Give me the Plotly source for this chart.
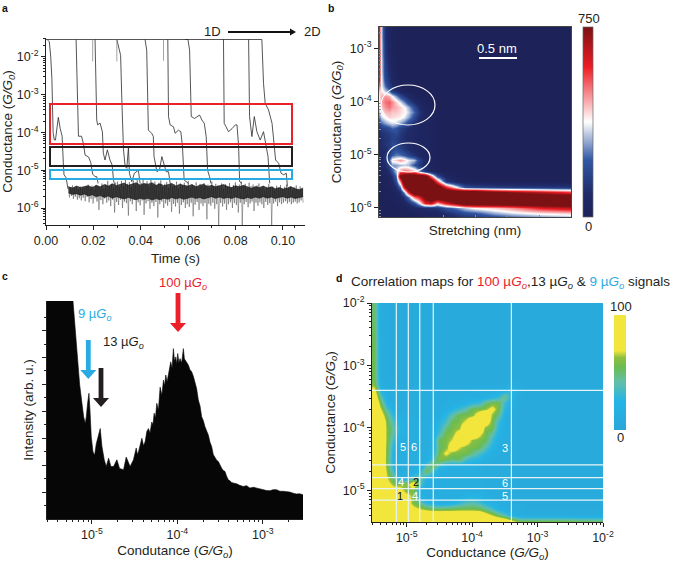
import numpy as np
import plotly.graph_objects as go

W, H = 685, 564

# ---------- panel a : log10 conductance traces ----------
TOP_LEVEL = -1.54
TOP_TIMES = [0.0, 0.0911]
TRACE_1_T = [0.0005,0.0014,0.0020,0.0025,0.0030,0.0035,0.0040,0.0045,0.0052,0.0060,0.0068,0.0073,0.0076,0.0085,0.0093]
TRACE_1_G = [-1.54,-1.6,-2.0,-2.6,-4.0,-4.2,-4.2,-3.95,-3.6,-3.9,-4.1,-4.8,-5.12,-5.2,-5.5]
TRACE_2_T = [0.0127,0.0130,0.0137,0.015,0.0158,0.0165,0.018,0.0189,0.0197,0.0207,0.0214,0.022]
TRACE_2_G = [-1.54,-2.6,-4.1,-4.1,-4.3,-4.6,-4.65,-4.8,-5.1,-5.17,-5.17,-5.35]
TRACE_3_T = [0.0207,0.0209,0.0214,0.0218,0.0228,0.0238,0.0242,0.0249,0.0259,0.027,0.0279,0.0285,0.029]
TRACE_3_G = [-1.54,-2.4,-3.67,-3.8,-3.75,-3.98,-4.55,-4.73,-4.46,-4.73,-4.86,-5.26,-5.4]
TRACE_4_T = [0.0299,0.031,0.0315,0.032,0.0327,0.0334,0.0341,0.0348,0.0352,0.0362,0.0373,0.039,0.0397]
TRACE_4_G = [-1.54,-1.82,-1.96,-3.14,-4.46,-4.9,-4.95,-4.38,-5.08,-5.3,-5.08,-5.0,-5.35]
TRACE_5_T = [0.0418,0.0425,0.0432,0.0446,0.0453,0.0456,0.0468,0.0479,0.0489,0.0499,0.0507,0.0517,0.0524]
TRACE_5_G = [-1.54,-1.82,-3.94,-4.02,-4.11,-4.64,-5.04,-4.99,-4.64,-4.86,-5.04,-5.04,-5.35]
TRACE_6_T = [0.0514,0.0517,0.0524,0.0538,0.0545,0.0559,0.0569,0.0576,0.0583,0.0601]
TRACE_6_G = [-1.54,-3.58,-3.8,-3.85,-4.02,-3.94,-3.98,-4.38,-5.26,-5.35]
TRACE_7_T = [0.0587,0.0599,0.0606,0.0613,0.0627,0.0637,0.0648,0.0658,0.0668,0.0676,0.0682,0.069,0.0696]
TRACE_7_G = [-1.54,-1.54,-1.82,-3.58,-3.63,-3.58,-3.54,-3.67,-3.76,-4.11,-5.0,-5.17,-5.35]
TRACE_8_T = [0.0749,0.0752,0.076,0.077,0.0785,0.0799,0.0806,0.0813,0.0817,0.0827]
TRACE_8_G = [-1.54,-3.76,-3.85,-3.98,-3.9,-3.8,-3.8,-4.38,-5.3,-5.35]
TRACE_9_T = [0.0855,0.0859,0.0869,0.0879,0.089,0.0904,0.0918,0.0925,0.0932,0.0937,0.0944]
TRACE_9_G = [-1.54,-3.58,-4.11,-3.58,-3.98,-4.2,-3.98,-4.24,-4.46,-4.64,-5.35]
TRACE_10_T = [0.0911,0.0918,0.0925,0.0939,0.0954,0.0963,0.0969,0.0982,0.0992,0.1003,0.1014,0.1019]
TRACE_10_G = [-1.54,-2.7,-3.23,-3.4,-3.76,-4.29,-4.73,-4.82,-5.08,-5.12,-5.08,-5.43]
SPIKE_A_T = [0.0197,0.0197]
SPIKE_A_G = [-1.54,-2.12]
SPIKE_B_T = [0.0496,0.0496]
SPIKE_B_G = [-1.54,-2.1]
SPIKE_C_T = [0.0299,0.0299]
SPIKE_C_G = [-1.54,-2.12]
TRACES = [(TRACE_1_T,TRACE_1_G),(TRACE_2_T,TRACE_2_G),(TRACE_3_T,TRACE_3_G),(TRACE_4_T,TRACE_4_G),
          (TRACE_5_T,TRACE_5_G),(TRACE_6_T,TRACE_6_G),(TRACE_7_T,TRACE_7_G),(TRACE_8_T,TRACE_8_G),
          (TRACE_9_T,TRACE_9_G),(TRACE_10_T,TRACE_10_G),(SPIKE_A_T,SPIKE_A_G),(SPIKE_B_T,SPIKE_B_G),(SPIKE_C_T,SPIKE_C_G)]

FLOOR_WIDE = [-5.42,-5.72,-5.45,-5.68,-5.4,-5.76,-5.47,-5.7,-5.44,-5.78,-5.5,-5.74,-5.43,-5.8,-5.48,-5.73,-5.46,-5.82,-5.42,-5.71,
 -5.38,-5.85,-5.47,-5.76,-5.41,-5.88,-5.5,-5.74,-5.39,-5.83,-5.44,-6.05,-5.46,-5.79,-5.35,-5.9,-5.48,-5.75,-5.37,-5.86,
 -5.28,-5.8,-5.42,-5.95,-5.36,-5.78,-5.45,-6.12,-5.33,-5.84,-5.3,-5.92,-5.44,-5.78,-5.28,-6.0,-5.41,-5.83,-5.25,-5.87,
 -5.36,-6.2,-5.31,-5.82,-5.43,-5.9,-5.27,-5.79,-5.38,-6.08,-5.26,-5.85,-5.4,-5.93,-5.34,-5.8,-5.22,-6.18,-5.37,-5.88,
 -5.29,-5.82,-5.42,-6.02,-5.24,-5.86,-5.38,-5.95,-5.3,-5.84,-5.41,-6.25,-5.33,-5.9,-5.27,-5.83,-5.44,-6.0,-5.36,-5.88,
 -5.31,-5.94,-5.46,-5.84,-5.34,-6.1,-5.42,-5.89,-5.38,-5.96,-5.3,-5.86,-5.47,-6.15,-5.35,-5.92,-5.41,-5.85,-5.33,-6.0,
 -5.43,-5.9,-5.28,-5.97,-5.45,-5.86,-5.37,-6.22,-5.4,-5.91,-5.32,-5.84,-5.46,-6.05,-5.36,-5.88,-5.42,-5.95,-5.34,-5.87,
 -5.41,-6.3,-5.38,-5.89,-5.47,-5.94,-5.3,-5.86,-5.44,-6.02,-5.36,-5.9,-5.4,-6.45,-5.45,-5.87,-5.35,-5.96,-5.48,-5.88,
 -5.37,-6.05,-5.43,-5.9,-5.34,-5.85,-5.46,-6.0,-5.39,-5.87,-5.32,-5.92,-5.44,-6.12,-5.38,-5.86,-5.3,-6.45,-5.41,-5.9,
 -5.36,-5.84,-5.47,-5.98,-5.33,-5.88,-5.42,-5.83,-5.38,-6.08,-5.45,-5.86,-5.4,-5.94,-5.35,-5.85,-5.48,-5.9,-5.42,-6.0,
 -5.5,-5.84,-5.44,-5.92,-5.37,-5.87,-5.46,-6.45,-5.43,-5.88,-5.52,-5.83,-5.41,-5.95,-5.48,-5.85,-5.39,-5.9,-5.5,-5.86,
 -5.44,-5.82,-5.38,-5.88,-5.47,-5.84,-5.42,-5.9,-5.51,-5.86,-5.45,-5.83,-5.4,-5.88,-5.49,-5.85,-5.43,-5.8,-5.5,-5.86]
BAND_UPPER = [-5.44,-5.47,-5.42,-5.46,-5.43,-5.41,-5.46,-5.4,-5.44,-5.38,-5.42,-5.36,-5.41,-5.38,-5.34,-5.4,-5.36,-5.33,-5.39,-5.35,
 -5.37,-5.33,-5.4,-5.36,-5.41,-5.38,-5.35,-5.42,-5.37,-5.4,-5.42,-5.38,-5.44,-5.4,-5.37,-5.43,-5.4,-5.44,-5.41,-5.38,
 -5.43,-5.46,-5.41,-5.44,-5.4,-5.45,-5.48,-5.43,-5.46,-5.42,-5.47,-5.44,-5.49,-5.46,-5.5,-5.47,-5.44,-5.49,-5.52,-5.47]
BAND_LOWER = [-5.6,-5.64,-5.62,-5.66,-5.63,-5.68,-5.65,-5.7,-5.67,-5.72,-5.68,-5.74,-5.7,-5.73,-5.76,-5.72,-5.75,-5.78,-5.74,-5.77,
 -5.74,-5.79,-5.75,-5.78,-5.74,-5.77,-5.72,-5.76,-5.73,-5.77,-5.74,-5.71,-5.75,-5.72,-5.76,-5.73,-5.7,-5.74,-5.71,-5.75,
 -5.72,-5.75,-5.71,-5.74,-5.76,-5.72,-5.75,-5.71,-5.74,-5.7,-5.74,-5.71,-5.75,-5.72,-5.7,-5.74,-5.71,-5.75,-5.72,-5.7]
FLOOR_START, FLOOR_END = 0.0095, 0.1085
RECT_RED = (50, 292, 104, 144)
RECT_BLACK = (50, 292, 147, 166)
RECT_BLUE = (50, 292, 170, 179)

# ---------- panel b : 2D histogram ----------
B_X = [0,.01,.03,.05,.07,.09,.11,.13,.15,.18,.21,.24,.27,.30,.35,.40,.45,.50,.60,.70,.85,1.0]
B_LOG_Y = [-6.2,-6.1,-6.0,-5.9,-5.8,-5.7,-5.6,-5.5,-5.4,-5.3,-5.2,-5.1,-5.0,-4.9,-4.8,-4.7,-4.6,-4.5,-4.4,-4.3,-4.2,-4.1,-4.0,-3.9,-3.8,-3.7,-3.6,-3.5,-3.4,-3.3,-3.2,-3.1,-3.0,-2.9,-2.8,-2.7,-2.6,-2.5]
B_Z = [
 [0,0,0,0,0,0,0,0,0,0,10,20,30,40,50,70,90,100,140,180,220,250],
 [0,0,0,0,0,0,0,0,10,20,30,40,50,60,100,150,200,220,300,350,400,430],
 [0,0,0,0,0,0,5,10,30,60,80,100,110,120,200,260,330,380,420,480,600,650],
 [0,0,0,0,5,10,20,50,100,200,350,600,650,450,620,750,900,900,900,900,900,900],
 [0,0,0,5,10,20,50,120,250,500,600,800,900,900,900,900,900,900,900,900,900,900],
 [0,0,5,10,25,50,100,300,600,900,900,900,900,900,900,900,900,900,800,720,650,560],
 [0,5,10,25,50,100,250,650,900,900,900,900,900,900,600,380,200,170,150,140,135,130],
 [5,10,20,40,80,200,500,900,900,900,900,900,850,520,130,40,15,5,0,0,0,0],
 [10,15,30,60,120,260,790,850,900,900,880,860,500,200,50,15,0,0,0,0,0,0],
 [20,30,60,110,210,330,480,520,500,460,300,120,50,15,0,0,0,0,0,0,0,0],
 [40,60,90,170,280,290,310,330,320,210,130,70,35,10,0,0,0,0,0,0,0,0],
 [50,70,120,220,400,420,470,420,360,320,170,70,30,10,0,0,0,0,0,0,0,0],
 [60,80,110,150,220,260,250,220,170,110,70,40,25,8,0,0,0,0,0,0,0,0],
 [70,90,100,130,170,200,170,130,100,70,50,40,25,8,0,0,0,0,0,0,0,0],
 [80,100,120,140,190,170,130,110,90,60,50,40,25,8,0,0,0,0,0,0,0,0],
 [80,100,110,130,160,150,120,100,80,60,50,40,25,10,0,0,0,0,0,0,0,0],
 [90,110,130,150,170,190,140,110,90,70,50,40,25,10,0,0,0,0,0,0,0,0],
 [110,150,170,200,240,220,160,130,100,70,50,40,25,10,0,0,0,0,0,0,0,0],
 [170,240,290,330,350,340,300,250,180,110,65,40,25,10,0,0,0,0,0,0,0,0],
 [260,330,390,420,410,400,390,360,300,190,100,50,25,10,0,0,0,0,0,0,0,0],
 [320,400,440,450,430,430,410,390,340,240,130,60,25,8,0,0,0,0,0,0,0,0],
 [370,430,480,510,470,450,420,380,310,190,90,30,12,0,0,0,0,0,0,0,0,0],
 [390,450,510,530,490,420,350,270,180,100,40,12,0,0,0,0,0,0,0,0,0,0],
 [390,450,480,450,370,280,190,130,80,25,8,0,0,0,0,0,0,0,0,0,0,0],
 [430,400,330,250,150,100,60,30,10,0,0,0,0,0,0,0,0,0,0,0,0,0],
 [520,380,250,160,100,55,20,5,0,0,0,0,0,0,0,0,0,0,0,0,0,0],
 [600,380,190,120,70,30,5,0,0,0,0,0,0,0,0,0,0,0,0,0,0,0],
 [620,370,170,105,60,25,0,0,0,0,0,0,0,0,0,0,0,0,0,0,0,0],
 [620,360,160,95,50,20,0,0,0,0,0,0,0,0,0,0,0,0,0,0,0,0],
 [620,360,150,85,45,15,0,0,0,0,0,0,0,0,0,0,0,0,0,0,0,0],
 [620,360,140,75,35,10,0,0,0,0,0,0,0,0,0,0,0,0,0,0,0,0],
 [620,350,130,65,28,5,0,0,0,0,0,0,0,0,0,0,0,0,0,0,0,0],
 [600,350,125,60,22,0,0,0,0,0,0,0,0,0,0,0,0,0,0,0,0,0],
 [600,350,120,55,20,0,0,0,0,0,0,0,0,0,0,0,0,0,0,0,0,0],
 [600,340,115,55,20,0,0,0,0,0,0,0,0,0,0,0,0,0,0,0,0,0],
 [600,340,110,50,18,0,0,0,0,0,0,0,0,0,0,0,0,0,0,0,0,0],
 [600,340,110,50,18,0,0,0,0,0,0,0,0,0,0,0,0,0,0,0,0,0],
 [600,340,110,50,18,0,0,0,0,0,0,0,0,0,0,0,0,0,0,0,0,0],
]
B_TICKS_X = [0.335,0.5,0.665,0.835]

# ---------- panel c : 1D histogram ----------
C_LOG_X = [-5.53,-5.233,-5.222,-5.195,-5.167,-5.144,-5.117,-5.097,-5.078,-5.066,-5.051,-5.035,-5.023,-5.008,-4.988,-4.969,-4.949,-4.922,-4.903,-4.883,
 -4.856,-4.833,-4.805,-4.778,-4.747,-4.708,-4.677,-4.630,-4.599,-4.553,-4.514,-4.482,-4.468,-4.455,-4.436,-4.416,-4.396,-4.377,-4.358,-4.339,
 -4.32,-4.300,-4.286,-4.272,-4.257,-4.241,-4.222,-4.202,-4.182,-4.163,-4.15,-4.136,-4.12,-4.105,-4.09,-4.078,-4.062,-4.047,-4.033,-4.019,
 -4.008,-3.996,-3.982,-3.969,-3.95,-3.930,-3.918,-3.907,-3.89,-3.872,-3.853,-3.833,-3.813,-3.794,-3.775,-3.755,-3.735,-3.716,-3.696,-3.677,
 -3.657,-3.638,-3.618,-3.599,-3.58,-3.560,-3.54,-3.521,-3.50,-3.482,-3.463,-3.444,-3.425,-3.405,-3.386,-3.366,-3.337,-3.307,-3.27,-3.23,
 -3.19,-3.152,-3.11,-3.074,-3.035,-2.996,-2.957,-2.918,-2.88,-2.84,-2.80,-2.763,-2.72,-2.685,-2.645,-2.607,-2.57,-2.53]
C_VALUE = [9,9,8.1,6.95,5.9,5.0,4.3,3.8,3.55,3.8,4.3,4.67,4.05,3.06,2.5,2.37,2.8,3.17,3.36,2.69,
 2.2,1.95,2.26,1.95,1.95,2.2,1.88,1.83,2.3,1.95,2.2,2.64,2.4,2.5,2.75,3.0,2.72,2.88,3.25,3.36,
 3.2,3.6,3.5,3.93,3.75,4.3,4.05,4.9,4.6,5.16,4.95,5.35,5.1,5.35,5.55,5.84,5.6,6.33,5.85,6.02,
 5.75,6.15,5.8,5.96,5.8,6.33,5.95,5.9,5.85,5.72,5.55,5.47,5.3,5.1,4.85,4.42,4.2,3.8,3.65,3.43,
 3.3,3.12,2.85,2.69,2.4,2.26,2.18,2.14,1.98,1.89,1.8,1.77,1.6,1.46,1.42,1.36,1.33,1.31,1.25,1.21,
 1.24,1.15,1.18,1.15,1.12,1.09,1.06,1.05,1.09,1.09,1.03,1.03,1.02,1.0,0.96,0.93,0.94,0.9]
C_TICKS_MAJOR = [1,2,3,4,5,6,7]
C_TICKS_MINOR = [0.5,1.5,2.5,3.5,4.5,5.5,6.5,7.5]

# ---------- panel d : correlation map, lower triangle of a symmetric matrix ----------
D_LOG = [-5.5,-5.4,-5.3,-5.2,-5.1,-5.0,-4.9,-4.8,-4.7,-4.6,-4.5,-4.4,-4.3,-4.2,-4.1,-4.0,-3.9,-3.8,-3.7,-3.6,-3.5,-3.4,-3.3,-3.2,-3.1,-3.0,-2.7,-2.3,-2.0]
D_TRI = [
 [100],
 [100,100],
 [100,100,90],
 [100,100,90,85],
 [100,100,90,80,85],
 [100,100,90,78,75,55],
 [100,100,75,60,60,60,85],
 [100,100,68,45,18,20,40,45],
 [100,100,60,28,14,12,15,25,55],
 [100,100,55,22,12,12,12,15,35,60],
 [100,100,52,18,12,12,12,12,15,35,62],
 [100,100,55,18,12,12,12,12,14,25,55,72],
 [100,100,56,22,12,12,12,12,12,22,50,60,85],
 [100,100,58,30,15,14,12,12,12,20,54,58,68,100],
 [100,100,58,38,22,14,12,12,14,20,35,57,60,80,100],
 [100,100,58,40,25,15,12,12,14,20,28,48,58,62,95,100],
 [100,98,56,35,22,14,12,12,12,14,25,36,55,58,72,95,100],
 [100,80,48,25,15,12,12,10,10,12,14,28,40,55,57,60,82,100],
 [100,66,35,18,12,10,10,10,10,10,12,14,25,32,42,55,58,62,75],
 [100,52,22,14,10,10,10,10,10,10,10,12,14,18,22,28,32,48,57,58],
 [90,38,15,12,10,10,10,10,10,10,10,10,12,12,14,14,15,18,25,30,50],
 [75,22,12,10,10,10,10,10,10,10,10,10,10,10,10,12,12,12,14,16,20,30],
 [58,15,10,8,8,8,8,8,8,8,8,8,8,8,8,8,8,8,8,8,8,10,8],
 [55,12,8,8,8,8,8,8,8,8,8,8,8,8,8,8,8,8,8,8,8,8,8,8],
 [55,12,8,8,8,8,8,8,8,8,8,8,8,8,8,8,8,8,8,8,8,8,8,8,8],
 [55,12,8,8,8,8,8,8,8,8,8,8,8,8,8,8,8,8,8,8,8,8,8,8,8,8],
 [55,12,8,8,8,8,8,8,8,8,8,8,8,8,8,8,8,8,8,8,8,8,8,8,8,8,8],
 [52,12,8,8,8,8,8,8,8,8,8,8,8,8,8,8,8,8,8,8,8,8,8,8,8,8,8,8],
 [50,12,8,8,8,8,8,8,8,8,8,8,8,8,8,8,8,8,8,8,8,8,8,8,8,8,8,8,8],
]
D_GRID_LOG = [-5.158,-4.975,-4.80,-4.594,-3.40]
D_CELLS = [("5",403,447,"white"),("6",414,447,"white"),("3",505,448,"white"),("4",401,482,"white"),
           ("2",416,482,"#111"),("6",505,483,"white"),("1",400,496,"#111"),("4",415,496,"white"),("5",505,496,"white")]

RED, BLUE, INK = "#ec2028", "#29abe2", "#231f20"
FONT = "Liberation Sans"
TITLE_SIZE = 13.5
NOTE_SIZE = 13


def px_x(x):
    return x / W


def px_y(y):
    return 1 - y / H


def minor_ticks(lo, hi):
    out = []
    for e in range(lo, hi):
        for m in range(2, 10):
            out.append(m * 10.0 ** e)
    return out


def real(values):
    return [10.0 ** v for v in values]


def exp_labels(exps):
    return [f"10<sup>{e}</sup>" for e in exps]


fig = go.Figure()


def axis(name, dom, **kw):
    base = dict(domain=[dom[0], dom[1]], showgrid=False, zeroline=False, showline=True,
                linecolor=INK, linewidth=1, ticks="outside", ticklen=4, tickwidth=1,
                tickcolor=INK, tickfont=dict(size=12.5, color=INK), automargin=False)
    base.update(kw)
    fig.layout[name] = base


def log_axis(name, dom, rng, exps, lo, hi, **kw):
    axis(name, dom, type="log", range=rng, tickmode="array",
         tickvals=[10.0 ** e for e in exps], ticktext=exp_labels(exps),
         minor=dict(tickmode="array", tickvals=minor_ticks(lo, hi), ticks="outside",
                    ticklen=2, tickwidth=0.7, tickcolor=INK, showgrid=False), **kw)


def title(text, standoff):
    return dict(text=text, font=dict(size=TITLE_SIZE, color=INK), standoff=standoff)


# panel a
band_t = list(np.linspace(FLOOR_START, FLOOR_END, len(BAND_UPPER)))
fig.add_trace(go.Scatter(x=TOP_TIMES, y=real([TOP_LEVEL, TOP_LEVEL]), mode="lines",
                         line=dict(color="#444", width=0.9), showlegend=False, xaxis="x", yaxis="y"))
fig.add_trace(go.Scatter(x=list(np.linspace(FLOOR_START, FLOOR_END, len(FLOOR_WIDE))), y=real(FLOOR_WIDE), mode="lines",
                         line=dict(color="rgba(50,50,50,0.7)", width=0.6), showlegend=False, xaxis="x", yaxis="y"))
fig.add_trace(go.Scatter(x=band_t, y=real(BAND_UPPER), mode="lines", line=dict(color="#151515", width=0.6),
                         showlegend=False, xaxis="x", yaxis="y"))
fig.add_trace(go.Scatter(x=band_t, y=real(BAND_LOWER), mode="lines", fill="tonexty", fillcolor="rgba(15,15,15,0.78)",
                         line=dict(color="#151515", width=0.6), showlegend=False, xaxis="x", yaxis="y"))
for i, (t, g) in enumerate(TRACES):
    fig.add_trace(go.Scatter(x=t, y=real(g), mode="lines",
                             line=dict(color="#8a8a8a" if i >= 10 else "#2a2a2a", width=0.8),
                             showlegend=False, xaxis="x", yaxis="y"))
axis("xaxis", (px_x(46), px_x(305)), range=[0, 0.1093], tickmode="array",
     tickvals=[0, 0.02, 0.04, 0.06, 0.08, 0.10], ticktext=["0.00", "0.02", "0.04", "0.06", "0.08", "0.10"],
     anchor="y", title=title("Time (s)", 6),
     minor=dict(tickmode="array", tickvals=[0.01, 0.03, 0.05, 0.07, 0.09, 0.105], ticks="outside", ticklen=2, tickcolor=INK))
log_axis("yaxis", (px_y(225), px_y(38)), [-6.45, -1.5], [-6, -5, -4, -3, -2], -7, -1, anchor="x",
         title=title("Conductance (<i>G/G<sub>0</sub></i>)", 4))

# panel b
colors_b = [[0, "#1d2259"], [0.12, "#1f2a68"], [0.3, "#3157a4"], [0.5, "#ffffff"], [0.79, "#ed1c24"], [1, "#7b1113"]]
fig.add_trace(go.Heatmap(x=B_X, y=real(B_LOG_Y), z=B_Z, zmin=0, zmax=750, zsmooth="best", colorscale=colors_b,
                         xaxis="x2", yaxis="y2", hoverinfo="skip",
                         colorbar=dict(x=px_x(583), xanchor="left", y=px_y(217), yanchor="bottom", len=190, lenmode="pixels",
                                       thickness=10, thicknessmode="pixels", xpad=0, ypad=0, outlinecolor="#666",
                                       outlinewidth=0.7, tickmode="array", tickvals=[], ticks="", showticklabels=False)))
axis("xaxis2", (px_x(379), px_x(571)), range=[0, 1], anchor="y2", tickmode="array", tickvals=B_TICKS_X, showticklabels=False,
     ticks="inside", ticklen=2, tickcolor="#8890b0", title=title("Stretching (nm)", 8), mirror=True, linecolor="#444")
log_axis("yaxis2", (px_y(217), px_y(27)), [-6.17, -2.6], [-6, -5, -4, -3], -7, -2, anchor="x2",
         title=title("Conductance (<i>G/G<sub>0</sub></i>)", 5), mirror=True, linecolor="#444")
fig.layout.yaxis2.minor.ticks = "inside"
fig.layout.yaxis2.minor.tickcolor = "#8890b0"

# panel c
fig.add_trace(go.Scatter(x=real(C_LOG_X), y=C_VALUE, mode="lines", fill="tozeroy", fillcolor="#060606",
                         line=dict(color="#060606", width=0.6), showlegend=False, xaxis="x3", yaxis="y3"))
log_axis("xaxis3", (px_x(47), px_x(303)), [-5.526, -2.53], [-5, -4, -3], -6, -2, anchor="y3",
         title=title("Condutance (<i>G/G<sub>o</sub></i>)", 4))
axis("yaxis3", (px_y(519), px_y(301)), range=[0, 8.1], anchor="x3", tickmode="array", tickvals=C_TICKS_MAJOR,
     showticklabels=False, title=title("Intensity (arb. u.)", 5),
     minor=dict(tickmode="array", tickvals=C_TICKS_MINOR, ticks="outside", ticklen=2, tickcolor=INK))

# panel d
n = len(D_LOG)
d_z = [[D_TRI[i][j] if j <= i else D_TRI[j][i] for j in range(n)] for i in range(n)]
colors_d = [[0, "#2aa6d8"], [0.25, "#25b4e6"], [0.42, "#62bfa8"], [0.55, "#6cbb50"], [0.63, "#8fc040"], [0.69, "#f2e63d"], [1, "#f2e63d"]]
fig.add_trace(go.Heatmap(x=real(D_LOG), y=real(D_LOG), z=d_z, zmin=0, zmax=100, zsmooth="best", colorscale=colors_d,
                         xaxis="x4", yaxis="y4", hoverinfo="skip",
                         colorbar=dict(x=px_x(614), xanchor="left", y=px_y(430), yanchor="bottom", len=115, lenmode="pixels",
                                       thickness=12, thicknessmode="pixels", xpad=0, ypad=0, outlinewidth=0,
                                       tickmode="array", tickvals=[], ticks="", showticklabels=False)))
for v in D_GRID_LOG:
    fig.add_trace(go.Scatter(x=[10.0 ** v] * 2, y=[10.0 ** -5.51, 10.0 ** -2], mode="lines", line=dict(color="#e8f4f4", width=1.2),
                             showlegend=False, xaxis="x4", yaxis="y4"))
    fig.add_trace(go.Scatter(x=[10.0 ** -5.53, 10.0 ** -2], y=[10.0 ** v] * 2, mode="lines", line=dict(color="#e8f4f4", width=1.2),
                             showlegend=False, xaxis="x4", yaxis="y4"))
log_axis("xaxis4", (px_x(372), px_x(603)), [-5.53, -2], [-5, -4, -3, -2], -6, -2, anchor="y4",
         title=title("Conductance (<i>G/G<sub>o</sub></i>)", 3))
log_axis("yaxis4", (px_y(522), px_y(303)), [-5.51, -2], [-5, -4, -3, -2], -6, -2, anchor="x4",
         title=title("Conductance (<i>G/G<sub>o</sub></i>)", 4))

# rectangles, ellipses, scale bar
shapes = []
for (x0, x1, y0, y1), c in [(RECT_RED, RED), (RECT_BLACK, INK), (RECT_BLUE, BLUE)]:
    shapes.append(dict(type="rect", xref="paper", yref="paper", x0=px_x(x0), x1=px_x(x1), y0=px_y(y0), y1=px_y(y1),
                       line=dict(color=c, width=2)))
for x0, x1, y0, y1 in [(381, 435, 85, 125), (387, 430, 143, 172)]:
    shapes.append(dict(type="circle", xref="paper", yref="paper", x0=px_x(x0), x1=px_x(x1), y0=px_y(y0), y1=px_y(y1),
                       line=dict(color="white", width=1.2)))
shapes.append(dict(type="line", xref="paper", yref="paper", x0=px_x(479), x1=px_x(517), y0=px_y(58), y1=px_y(58),
                   line=dict(color="white", width=2)))


def poly(points, color):
    path = "M" + " L".join(f"{px_x(x):.5f},{px_y(y):.5f}" for x, y in points) + " Z"
    shapes.append(dict(type="path", xref="paper", yref="paper", path=path, fillcolor=color, line=dict(width=0)))


def down_arrow(x, top, neck, tip, color):
    poly([(x - 2.4, top), (x + 2.4, top), (x + 2.4, neck), (x + 8, neck), (x, tip), (x - 8, neck), (x - 2.4, neck)], color)


down_arrow(178, 293, 323, 332, RED)
down_arrow(88.3, 340, 370, 379, BLUE)
down_arrow(101, 368, 398, 407, INK)
poly([(228, 31), (290, 31), (290, 28.5), (296, 32), (290, 35.5), (290, 33), (228, 33)], "#111")
fig.update_layout(shapes=shapes)


def note(text, x, y, size=NOTE_SIZE, color=INK, anchor="center", **kw):
    fig.add_annotation(text=text, x=px_x(x), y=px_y(y), xref="paper", yref="paper", showarrow=False, xanchor=anchor,
                       yanchor="middle", borderpad=0, font=dict(size=size, color=color, family=FONT), **kw)


for label, x, y in [("a", 5, 8), ("b", 331, 8), ("c", 5, 276), ("d", 339, 278)]:
    note(f"<b>{label}</b>", x, y, size=10.5, color="#111")
note("1D", 212, 32)
note("2D", 312, 32)
note("0.5 nm", 497, 48, color="white")
note("750", 589, 19)
note("0", 588, 226)
note("100", 621, 306)
note("0", 620, 437)
note("100 µ<i>G<sub>o</sub></i>", 183, 283, color=RED)
note("9 µ<i>G<sub>o</sub></i>", 95, 315, color=BLUE)
note("13 µ<i>G<sub>o</sub></i>", 123, 342)
note(f'Correlation maps for <span style="color:{RED}">100 µ<i>G<sub>o</sub></i></span>,13 µ<i>G<sub>o</sub></i> & '
     f'<span style="color:{BLUE}">9 µ<i>G<sub>o</sub></i></span> signals', 350, 282, size=13.5, anchor="left")
for text, x, y, c in D_CELLS:
    note(text, x, y, size=11, color=c)

fig.update_layout(width=W, height=H, margin=dict(l=0, r=0, t=0, b=0), autosize=False,
                  paper_bgcolor="white", plot_bgcolor="white", font=dict(family=FONT, color=INK),
                  showlegend=False, hovermode=False)
fig.write_html("out.html", config={"displayModeBar": False}, post_script="document.body.style.margin='0';")
